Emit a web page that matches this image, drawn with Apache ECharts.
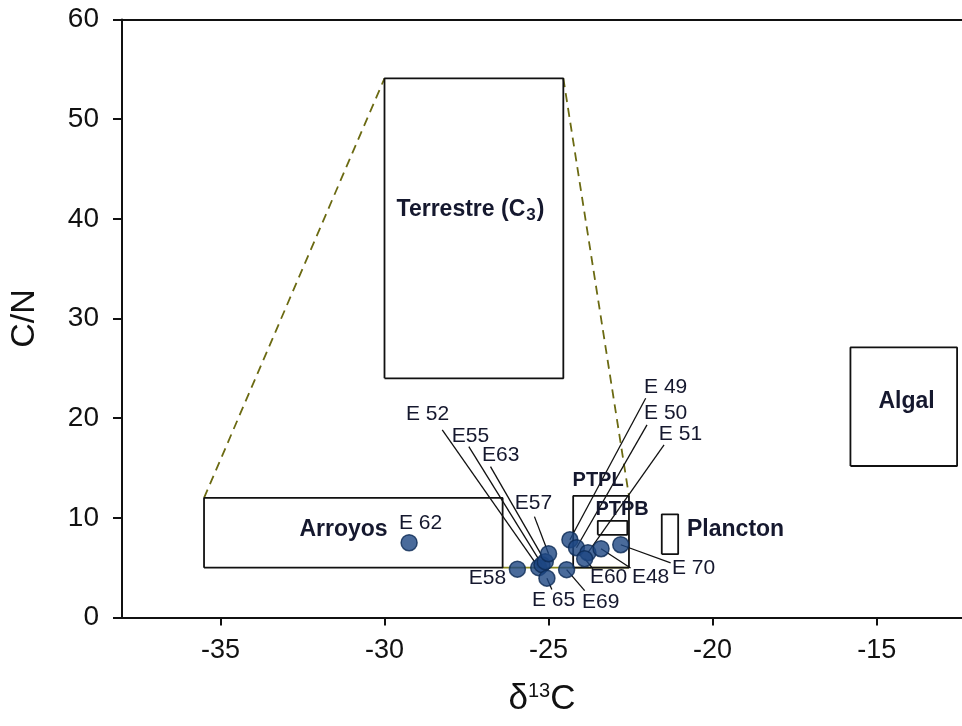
<!DOCTYPE html>
<html>
<head>
<meta charset="utf-8">
<script src="https://cdn.jsdelivr.net/npm/echarts@6/dist/echarts.min.js"></script>
<style>
html,body{margin:0;padding:0;background:#fff;}
#chart{width:962px;height:726px;}
</style>
</head>
<body>
<div id="chart"></div>
<script>
// ---------- data ----------
const xTicks = [-35, -30, -25, -20, -15];
const sampleNames = ['E 62','E58','E 52','E55','E63','E57','E 65','E69','E 49','E 50','E 51','E60','E48','E 70'];
const sampleD13C  = [-29.25,-25.95,-25.3,-25.2,-25.1,-25.0,-25.05,-24.45,-24.35,-24.15,-23.8,-23.9,-23.4,-22.8];
const sampleCN    = [7.5, 4.85, 5.0, 5.3, 5.6, 6.4, 3.95, 4.8, 7.8, 7.0, 6.5, 5.9, 6.9, 7.3];

// source boxes (δ13C range, C/N range)
const boxNames = ['Terrestre (C3)','Arroyos','PTPL','PTPB','Plancton','Algal'];
const boxX0 = [-30.0, -35.5, -24.25, -23.5, -21.55, -15.8];
const boxX1 = [-24.55, -26.4, -22.55, -22.6, -21.05, -12.55];
const boxY0 = [24.0, 5.0, 5.0, 8.3, 6.35, 15.2];
const boxY1 = [54.1, 12.0, 12.2, 9.7, 10.35, 27.1];

// ---------- annotation layout (data units) ----------
const labelTextX = [-28.9,-26.86,-28.69,-27.38,-26.46,-25.46,-24.85,-23.41,-21.43,-21.43,-20.98,-23.17,-21.89,-20.58];
const labelTextY = [9.5, 3.97, 20.43, 18.22, 16.32, 11.5, 1.76, 1.56, 23.14, 20.53, 18.42, 4.07, 4.07, 4.97];
const leaderEndX = [null,null,-28.24,-27.43,-26.77,-25.43,-24.9,-23.9,-22.04,-22.0,-21.48,-23.65,-22.5,-21.28];
const leaderEndY = [null,null,18.83,17.15,15.14,10.12,2.8,2.7,22.0,19.33,17.32,4.9,4.97,5.47];

const boxLabelX = [-27.38, -31.25, -23.49, -22.76, -19.3, -14.09];
const boxLabelY = [40.9, 8.8, 13.75, 10.84, 8.8, 21.64];

const envelopeLines = [
  [[-35.5, 12.0], [-30.0, 54.1]],
  [[-24.55, 54.1], [-22.55, 12.2]]
];
const envelopeBase = [[-26.4, 5.0], [-22.55, 5.0]];

// ---------- build ----------
const FONT = "'Liberation Sans', Arial, sans-serif";
const series = [];

boxNames.forEach((n, i) => {
  series.push({
    type: 'line', silent: true, symbol: 'none', z: 3,
    lineStyle: {color: '#111', width: 1.8},
    data: [[boxX0[i], boxY0[i]], [boxX1[i], boxY0[i]], [boxX1[i], boxY1[i]], [boxX0[i], boxY1[i]], [boxX0[i], boxY0[i]]]
  });
});
envelopeLines.forEach(seg => {
  series.push({
    type: 'line', silent: true, symbol: 'none', z: 2,
    lineStyle: {color: '#6b6a12', width: 1.8, type: [9, 6]},
    data: seg
  });
});
series.push({
  type: 'line', silent: true, symbol: 'none', z: 2,
  lineStyle: {color: '#8a8a20', width: 1.8},
  data: envelopeBase
});

// leader lines + sample labels
const annData = sampleNames.map((n, i) => [sampleD13C[i], sampleCN[i], labelTextX[i], labelTextY[i],
  leaderEndX[i] == null ? NaN : leaderEndX[i], leaderEndY[i] == null ? NaN : leaderEndY[i], i]);
series.push({
  type: 'custom', silent: true, z: 4,
  data: annData,
  encode: {x: 0, y: 1},
  renderItem: function (params, api) {
    const p = api.coord([api.value(0), api.value(1)]);
    const t = api.coord([api.value(2), api.value(3)]);
    const children = [];
    const ex = api.value(4), ey = api.value(5);
    if (!isNaN(ex)) {
      const e = api.coord([ex, ey]);
      children.push({type: 'line', shape: {x1: p[0], y1: p[1], x2: e[0], y2: e[1]},
        style: {stroke: '#111', lineWidth: 1.3}});
    }
    children.push({type: 'text', style: {text: sampleNames[api.value(6)], x: t[0], y: t[1],
      align: 'center', verticalAlign: 'middle', font: '21px ' + FONT, fill: '#15182e'}});
    return {type: 'group', children: children};
  }
});

// box labels
const boxLabelData = boxNames.map((n, i) => [boxLabelX[i], boxLabelY[i], i]);
series.push({
  type: 'custom', silent: true, z: 6,
  data: boxLabelData,
  encode: {x: 0, y: 1},
  renderItem: function (params, api) {
    const t = api.coord([api.value(0), api.value(1)]);
    const i = api.value(2);
    const name = boxNames[i];
    const small = (name === 'PTPL' || name === 'PTPB');
    if (name === 'Terrestre (C3)') {
      return {type: 'text', style: {
        text: '{a|Terrestre (C}{s|3}{a|)}', x: t[0], y: t[1], align: 'center', verticalAlign: 'middle',
        rich: {
          a: {font: 'bold 23px ' + FONT, fill: '#15182e'},
          s: {font: 'bold 17px ' + FONT, fill: '#15182e', padding: [10, 1, 0, 1]}
        }
      }};
    }
    return {type: 'text', style: {text: name, x: t[0], y: t[1], align: 'center', verticalAlign: 'middle',
      font: 'bold ' + (small ? 20 : 23) + 'px ' + FONT, fill: '#15182e'}};
  }
});

// sample points
series.push({
  type: 'scatter', z: 5, symbol: 'circle', symbolSize: 16,
  itemStyle: {color: '#1d4682', borderColor: '#0c2a55', borderWidth: 1.5},
  data: sampleNames.map((n, i) => ({name: n, value: [sampleD13C[i], sampleCN[i]]}))
});

const chart = echarts.init(document.getElementById('chart'));
chart.setOption({
  backgroundColor: '#fff',
  animation: false,
  grid: {left: 121.5, right: 0, top: 19.5, bottom: 108.5, containLabel: false},
  xAxis: [{
    type: 'value', min: -38, max: -12.4, position: 'bottom',
    name: '{d|δ}{s|13}{c|C}', nameLocation: 'middle', nameGap: 64,
    nameTextStyle: {rich: {
      d: {fontFamily: FONT, fontSize: 35, color: '#111'},
      s: {fontFamily: FONT, fontSize: 20, color: '#111', verticalAlign: 'top', padding: [0, 0, 14, 0]},
      c: {fontFamily: FONT, fontSize: 35, color: '#111'}
    }},
    axisLine: {show: true, onZero: false, lineStyle: {color: '#111', width: 2}},
    axisTick: {show: true, length: 8, lineStyle: {color: '#111', width: 2}, customValues: xTicks},
    axisLabel: {customValues: xTicks, margin: 20, fontFamily: FONT, fontSize: 27, color: '#111'},
    splitLine: {show: false}
  }, {
    type: 'value', min: -38, max: -12.4, position: 'top',
    axisLine: {show: true, onZero: false, lineStyle: {color: '#111', width: 2}},
    axisTick: {show: false}, axisLabel: {show: false}, splitLine: {show: false}
  }],
  yAxis: {
    type: 'value', min: 0, max: 60, interval: 10,
    name: 'C/N', nameLocation: 'middle', nameGap: 80, nameRotate: 90,
    nameTextStyle: {fontFamily: FONT, fontSize: 34, color: '#111'},
    axisLine: {show: true, onZero: false, lineStyle: {color: '#111', width: 2}},
    axisTick: {show: true, length: 9, lineStyle: {color: '#111', width: 2}},
    axisLabel: {margin: 23, fontFamily: FONT, fontSize: 28, color: '#111'},
    splitLine: {show: false}
  },
  series: series
});
</script>
</body>
</html>
